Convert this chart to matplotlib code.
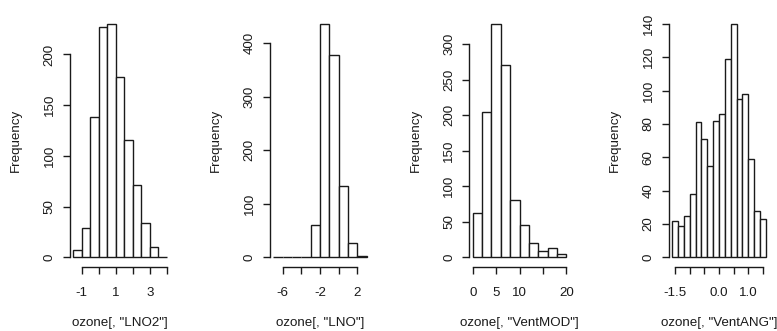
import numpy as np
import matplotlib
import matplotlib.pyplot as plt

matplotlib.use("Agg")

plt.rcParams["font.family"] = ["Liberation Sans", "DejaVu Sans"]

# histogram bins and counts for each ozone variable
lno2_edges = [-1.5, -1.0, -0.5, 0.0, 0.5, 1.0, 1.5, 2.0, 2.5, 3.0, 3.5, 4.0]
lno2_counts = [7, 29, 138, 227, 230, 178, 116, 71, 34, 10, 0]

lno_edges = [-7, -6, -5, -4, -3, -2, -1, 0, 1, 2, 3]
lno_counts = [1, 0, 0, 0, 60, 436, 378, 133, 26, 2]

ventmod_edges = [0, 2, 4, 6, 8, 10, 12, 14, 16, 18, 20]
ventmod_counts = [62, 205, 328, 270, 81, 45, 20, 9, 13, 5]

ventang_edges = [-1.6, -1.4, -1.2, -1.0, -0.8, -0.6, -0.4, -0.2, 0.0,
                 0.2, 0.4, 0.6, 0.8, 1.0, 1.2, 1.4, 1.6]
ventang_counts = [22, 19, 25, 38, 81, 71, 55, 82, 86, 119, 140, 95, 98, 59, 28, 23]

# axis ticks (an empty label means R dropped it for overlap)
lno2_xticks = [-1, 0, 1, 2, 3, 4]
lno2_xlabels = ["-1", "", "1", "", "3", ""]
lno2_yticks = [0, 50, 100, 150, 200]

lno_xticks = [-6, -4, -2, 0, 2]
lno_xlabels = ["-6", "", "-2", "", "2"]
lno_yticks = [0, 100, 200, 300, 400]

ventmod_xticks = [0, 5, 10, 15, 20]
ventmod_xlabels = ["0", "5", "10", "", "20"]
ventmod_yticks = [0, 50, 100, 150, 200, 250, 300]

ventang_xticks = [-1.5, -1.0, -0.5, 0.0, 0.5, 1.0, 1.5]
ventang_xlabels = ["-1.5", "", "", "0.0", "", "1.0", ""]
ventang_yticks = [0, 20, 40, 60, 80, 100, 120, 140]

panels = [
    ("LNO2", lno2_edges, lno2_counts, lno2_xticks, lno2_xlabels, lno2_yticks),
    ("LNO", lno_edges, lno_counts, lno_xticks, lno_xlabels, lno_yticks),
    ("VentMOD", ventmod_edges, ventmod_counts, ventmod_xticks, ventmod_xlabels, ventmod_yticks),
    ("VentANG", ventang_edges, ventang_counts, ventang_xticks, ventang_xlabels, ventang_yticks),
]

W, H = 777, 331
fig = plt.figure(figsize=(W / 100, H / 100), dpi=100)

# plot regions in pixels (left edge, top, width, height)
lefts = [69.5, 269.5, 469.0, 668.5]
top, pw, ph = 14.7, 101.0, 252.0
fs = 9.6
ink = "#1a1a1a"

for left, (name, edges, counts, xticks, xlabels, yticks) in zip(lefts, panels):
    ax = fig.add_axes([left / W, (H - top - ph) / H, pw / W, ph / H])
    edges = np.array(edges, dtype=float)
    ax.bar(edges[:-1], counts, width=np.diff(edges), align="edge",
           facecolor="white", edgecolor=ink, linewidth=1.0)

    # R style 4% padding around the data range
    xr = edges[-1] - edges[0]
    ymax = max(counts)
    ax.set_xlim(edges[0] - 0.04 * xr, edges[-1] + 0.04 * xr)
    ax.set_ylim(-0.04 * ymax, ymax * 1.04)

    for s in ("top", "right"):
        ax.spines[s].set_visible(False)
    ax.spines["left"].set_bounds(yticks[0], yticks[-1])
    ax.spines["bottom"].set_bounds(xticks[0], xticks[-1])
    for s in ("left", "bottom"):
        ax.spines[s].set_linewidth(1.0)
        ax.spines[s].set_color(ink)

    ax.set_xticks(xticks)
    ax.set_xticklabels(xlabels)
    ax.set_yticks(yticks)
    ax.set_yticklabels([str(t) for t in yticks], rotation=90, va="center")
    ax.tick_params(axis="x", length=5, width=1.0, pad=9.5, labelsize=fs,
                   color=ink, labelcolor=ink)
    ax.tick_params(axis="y", length=5, width=1.0, pad=5, labelsize=fs,
                   color=ink, labelcolor=ink)

    ax.annotate('ozone[, "%s"]' % name, xy=(0.5, 0), xycoords="axes fraction",
                xytext=(0, -40.5), textcoords="offset points",
                ha="center", va="center", fontsize=fs, color=ink)
    ax.annotate("Frequency", xy=(0, 0.5), xycoords="axes fraction",
                xytext=(-38.5, 0), textcoords="offset points",
                ha="center", va="center", rotation=90, fontsize=fs, color=ink)

fig.savefig("out.png", dpi=100)
